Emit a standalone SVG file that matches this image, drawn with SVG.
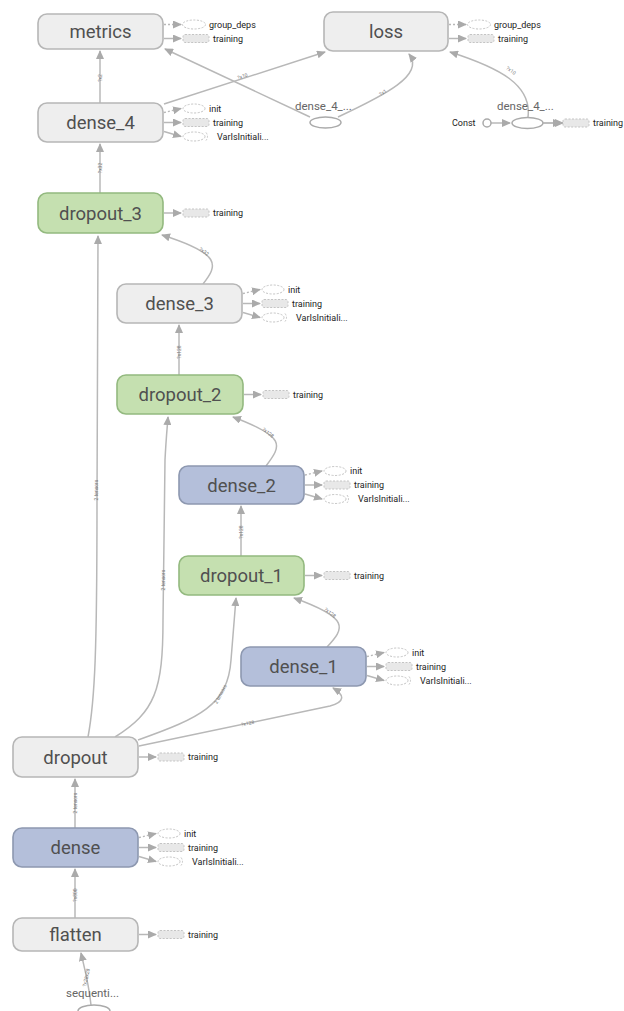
<svg xmlns="http://www.w3.org/2000/svg" width="624" height="1011" viewBox="0 0 624 1011">
<style>
.n rect{stroke-width:1.6}
.g rect{fill:#eeeeee;stroke:#b6b6b6}
.gr rect{fill:#c5e0b0;stroke:#93b97f}
.bl rect{fill:#b4bfda;stroke:#8d98b0}
.nt{font-family:Roboto,"Liberation Sans",sans-serif;font-size:18.5px;fill:#505050;text-anchor:middle}
.e{fill:none;stroke:#b8b8b8;stroke-width:1.5}
.ed{fill:none;stroke:#b8b8b8;stroke-width:1.3;stroke-dasharray:2 2}
.el{font-family:Roboto,"Liberation Sans",sans-serif;font-size:5px;fill:#777;text-anchor:middle}
.st{font-family:Roboto,"Liberation Sans",sans-serif;font-size:9px;fill:#222}
.ov{fill:#fff;stroke:#c4c4c4;stroke-width:1;stroke-dasharray:2 1.5}
.tr{fill:#e8e8e8;stroke:#c4c4c4;stroke-width:1;stroke-dasharray:2 1.5}
.sm{fill:#fff;stroke:#aaaaaa;stroke-width:1.5}
.sl{font-family:Roboto,"Liberation Sans",sans-serif;font-size:11.5px;fill:#666}
</style>
<defs>
<marker id="a" markerUnits="userSpaceOnUse" markerWidth="9" markerHeight="8" refX="8" refY="4" orient="auto"><path d="M0,0 L9,4 L0,8 z" fill="#aaaaaa"/></marker>
<g id="init"><path class="ed" d="M1,-10 L18,-14" marker-end="url(#a)"/><ellipse class="ov" cx="31" cy="-14" rx="11" ry="4.5"/><text class="st" x="46" y="-11">init</text></g>
<g id="trn"><path class="e" d="M1,0 L18,0" marker-end="url(#a)"/><rect class="tr" x="20" y="-4" width="26" height="8" rx="2"/><text class="st" x="50" y="3">training</text></g>
<g id="var"><path class="e" d="M1,9 L18,14" marker-end="url(#a)"/><path class="ov" d="M43,10 Q46,14 43,18" fill="none"/><ellipse class="ov" cx="31" cy="14" rx="11" ry="4.5"/><text class="st" x="54" y="17">VarIsInitiali...</text></g>
<g id="gd"><path class="ed" d="M1,-7 L18,-7" marker-end="url(#a)"/><ellipse class="ov" cx="31" cy="-7" rx="11.5" ry="4.5"/><text class="st" x="46" y="-4">group_deps</text></g>
<g id="trn2"><path class="e" d="M1,7 L18,7" marker-end="url(#a)"/><rect class="tr" x="20" y="3" width="26" height="8" rx="2"/><text class="st" x="50" y="10">training</text></g>
</defs>

<g id="edges">
<path class="e" d="M100,103 L100,51" marker-end="url(#a)"/><text class="el" transform="translate(102,78) rotate(-90)">?x2</text>
<path class="e" d="M164,104 L325,52" marker-end="url(#a)"/><text class="el" transform="translate(243,78) rotate(-18)">?x10</text>
<path class="e" d="M310,117 L165,49" marker-end="url(#a)"/>
<path class="e" d="M338,117 C385,95 425,75 409,54" marker-end="url(#a)"/><text class="el" transform="translate(384,94) rotate(-35)">?x1</text>
<path class="e" d="M528,117 C532,85 500,68 450,52" marker-end="url(#a)"/><text class="el" transform="translate(510,72) rotate(35)">?x10</text>
<path class="e" d="M491,123 L510,123" marker-end="url(#a)"/>
<path class="e" d="M543,123 L563,123" marker-end="url(#a)"/>
<path class="e" d="M100,193 L100,144" marker-end="url(#a)"/><text class="el" transform="translate(102,168) rotate(-90)">?x32</text>
<path class="e" d="M203,284 C218,265 222,254 162,235" marker-end="url(#a)"/><text class="el" transform="translate(203,253) rotate(35)">?x32</text>
<path class="e" d="M88,737 C95,700 97,650 97,500 L98,236" marker-end="url(#a)"/><text class="el" transform="translate(98,490) rotate(-90)">2 tensors</text>
<path class="e" d="M179,375 L179,325" marker-end="url(#a)"/><text class="el" transform="translate(181,352) rotate(-90)">?x128</text>
<path class="e" d="M266,466 C282,445 286,437 233,417" marker-end="url(#a)"/><text class="el" transform="translate(267,434) rotate(38)">?x128</text>
<path class="e" d="M115,737 C155,712 163,690 163,620 L165,460 C166,440 167,430 168,417" marker-end="url(#a)"/><text class="el" transform="translate(165,580) rotate(-90)">2 tensors</text>
<path class="e" d="M241,556 L241,506" marker-end="url(#a)"/><text class="el" transform="translate(243,532) rotate(-90)">?x128</text>
<path class="e" d="M327,647 C345,628 350,618 294,598" marker-end="url(#a)"/><text class="el" transform="translate(329,614) rotate(38)">?x128</text>
<path class="e" d="M138,740 C200,718 228,705 231,660 L236,598" marker-end="url(#a)"/><text class="el" transform="translate(222,695) rotate(-62)">2 tensors</text>
<path class="e" d="M139,746 L330,706 C345,702 345,695 333,688" marker-end="url(#a)"/><text class="el" transform="translate(248,725) rotate(-12)">?x128</text>
<path class="e" d="M75,828 L75,779" marker-end="url(#a)"/><text class="el" transform="translate(77,803) rotate(-90)">2 tensors</text>
<path class="e" d="M75,918 L75,869" marker-end="url(#a)"/><text class="el" transform="translate(77,895) rotate(-90)">?x800</text>
<path class="e" d="M91,1005 C89,985 85,970 81,953" marker-end="url(#a)"/><text class="el" transform="translate(88,978) rotate(-78)">?x28x28</text>
</g>

<g id="metrics" class="n g"><rect x="38" y="14" width="125" height="35" rx="9"/><text class="nt" x="100.5" y="38">metrics</text><use href="#gd" x="163" y="31.5"/><use href="#trn2" x="163" y="31.5"/></g>
<g id="loss" class="n g"><rect x="324" y="12" width="124" height="39" rx="9"/><text class="nt" x="386" y="38">loss</text><use href="#gd" x="448" y="31.5"/><use href="#trn2" x="448" y="31.5"/></g>
<g id="dense_4" class="n g"><rect x="38" y="103" width="125" height="39" rx="9"/><text class="nt" x="100.5" y="129">dense_4</text><use href="#init" x="163" y="122.5"/><use href="#trn" x="163" y="122.5"/><use href="#var" x="163" y="122.5"/></g>
<g id="dense_4_a"><text class="sl" x="295" y="110">dense_4_...</text><ellipse class="sm" cx="325.5" cy="122.5" rx="15.5" ry="5.5"/></g>
<g id="dense_4_b"><text class="sl" x="497" y="110">dense_4_...</text><ellipse class="sm" cx="527.5" cy="123" rx="15.5" ry="5.5"/><use href="#trn" x="543" y="123"/></g>
<g id="const"><text class="st" x="452" y="126">Const</text><circle class="sm" cx="487" cy="123" r="4"/></g>
<g id="dropout_3" class="n gr"><rect x="38" y="193" width="125" height="40" rx="9"/><text class="nt" x="100.5" y="219.5">dropout_3</text><use href="#trn" x="163" y="213"/></g>
<g id="dense_3" class="n g"><rect x="117" y="284" width="125" height="39" rx="9"/><text class="nt" x="179.5" y="310">dense_3</text><use href="#init" x="242" y="303.5"/><use href="#trn" x="242" y="303.5"/><use href="#var" x="242" y="303.5"/></g>
<g id="dropout_2" class="n gr"><rect x="117" y="375" width="126" height="39" rx="9"/><text class="nt" x="180" y="401">dropout_2</text><use href="#trn" x="243" y="394.5"/></g>
<g id="dense_2" class="n bl"><rect x="179" y="466" width="125" height="38" rx="9"/><text class="nt" x="241.5" y="491.5">dense_2</text><use href="#init" x="304" y="485"/><use href="#trn" x="304" y="485"/><use href="#var" x="304" y="485"/></g>
<g id="dropout_1" class="n gr"><rect x="179" y="556" width="125" height="39" rx="9"/><text class="nt" x="241.5" y="582">dropout_1</text><use href="#trn" x="304" y="575.5"/></g>
<g id="dense_1" class="n bl"><rect x="241" y="647" width="125" height="39" rx="9"/><text class="nt" x="303.5" y="673">dense_1</text><use href="#init" x="366" y="666.5"/><use href="#trn" x="366" y="666.5"/><use href="#var" x="366" y="666.5"/></g>
<g id="dropout" class="n g"><rect x="13" y="737" width="125" height="40" rx="9"/><text class="nt" x="75.5" y="763.5">dropout</text><use href="#trn" x="138" y="757"/></g>
<g id="dense" class="n bl"><rect x="13" y="828" width="125" height="39" rx="9"/><text class="nt" x="75.5" y="854">dense</text><use href="#init" x="138" y="847.5"/><use href="#trn" x="138" y="847.5"/><use href="#var" x="138" y="847.5"/></g>
<g id="flatten" class="n g"><rect x="13" y="918" width="125" height="33" rx="9"/><text class="nt" x="75.5" y="941">flatten</text><use href="#trn" x="138" y="934.5"/></g>
<g id="sequential"><text class="sl" x="66" y="997">sequenti...</text><ellipse class="sm" cx="94" cy="1011" rx="16" ry="6"/></g>
</svg>
